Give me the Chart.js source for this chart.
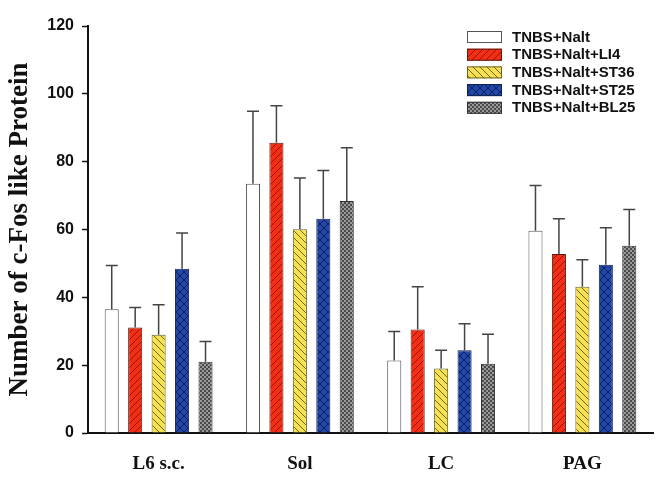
<!DOCTYPE html>
<html>
<head>
<meta charset="utf-8">
<script src="https://cdn.jsdelivr.net/npm/chart.js@4/dist/chart.umd.min.js"></script>
<style>
  html, body { margin: 0; padding: 0; background: #fff; }
  #wrap { width: 658px; height: 477px; }
</style>
</head>
<body>
<div id="wrap"><canvas id="chart" width="658" height="477"></canvas></div>
<script>
// categories and series
const categories = ['L6 s.c.', 'Sol', 'LC', 'PAG'];
const seriesLabels = ['TNBS+Nalt', 'TNBS+Nalt+LI4', 'TNBS+Nalt+ST36', 'TNBS+Nalt+ST25', 'TNBS+Nalt+BL25'];

// means
const naltMean = [36.5, 73.5, 21.4, 59.6];
const li4Mean  = [31.1, 85.6, 30.5, 52.8];
const st36Mean = [29.0, 60.1, 19.0, 43.1];
const st25Mean = [48.4, 63.2, 24.4, 49.6];
const bl25Mean = [21.0, 68.4, 20.4, 55.2];

// error bars (upper only)
const naltErr = [12.9, 21.4, 8.5, 13.4];
const li4Err  = [5.9, 10.9, 12.6, 10.4];
const st36Err = [8.8, 15.1, 5.4, 8.0];
const st25Err = [10.6, 14.2, 7.8, 10.9];
const bl25Err = [6.0, 15.7, 8.7, 10.7];

const yTicks = [0, 20, 40, 60, 80, 100, 120];

// pattern helpers
function makePattern(size, draw) {
    const c = document.createElement('canvas');
    c.width = size; c.height = size;
    const g = c.getContext('2d');
    draw(g, size);
    return document.getElementById('chart').getContext('2d').createPattern(c, 'repeat');
}

function diag(g, s, dir) {
    for (let k = -1; k <= 1; k++) {
        const o = k * s;
        g.beginPath();
        if (dir > 0) { g.moveTo(o, s); g.lineTo(o + s, 0); }
        else { g.moveTo(o, 0); g.lineTo(o + s, s); }
        g.stroke();
    }
}

const redFill = makePattern(7, (g, s) => {
    g.fillStyle = '#f52d14'; g.fillRect(0, 0, s, s);
    g.strokeStyle = '#8a1c0c'; g.lineWidth = 1; diag(g, s, 1);
});
const yellowFill = makePattern(7, (g, s) => {
    g.fillStyle = '#f7e24e'; g.fillRect(0, 0, s, s);
    g.strokeStyle = '#6e6420'; g.lineWidth = 1; diag(g, s, -1);
});
const blueFill = makePattern(8, (g, s) => {
    g.fillStyle = '#2148a8'; g.fillRect(0, 0, s, s);
    g.strokeStyle = '#0d1f5c'; g.lineWidth = 1; diag(g, s, 1); diag(g, s, -1);
});
const grayFill = makePattern(4, (g, s) => {
    g.fillStyle = '#4a4a4a'; g.fillRect(0, 0, s, s);
    g.fillStyle = '#9a9a9a'; g.fillRect(0, 0, 2, 2); g.fillRect(2, 2, 2, 2);
});

const means = [naltMean, li4Mean, st36Mean, st25Mean, bl25Mean];
const errs = [naltErr, li4Err, st36Err, st25Err, bl25Err];
const fills = ['#ffffff', redFill, yellowFill, blueFill, grayFill];
const borders = ['#555555', '#5a1a10', '#6a6030', '#102050', '#333333'];

// upward error bars
const errorBars = {
    id: 'errorBars',
    afterDatasetsDraw(chart) {
        const ctx = chart.ctx;
        const y = chart.scales.y;
        ctx.save();
        ctx.strokeStyle = '#444';
        ctx.lineWidth = 1.5;
        chart.data.datasets.forEach((ds, i) => {
            chart.getDatasetMeta(i).data.forEach((bar, j) => {
                const top = y.getPixelForValue(ds.data[j] + ds.errors[j]);
                ctx.beginPath();
                ctx.moveTo(bar.x, bar.y);
                ctx.lineTo(bar.x, top);
                ctx.moveTo(bar.x - 6, top);
                ctx.lineTo(bar.x + 6, top);
                ctx.stroke();
            });
        });
        ctx.restore();
    }
};

// legend box in the upper right
const boxLegend = {
    id: 'boxLegend',
    afterDraw(chart) {
        const ctx = chart.ctx;
        const x0 = chart.chartArea.right - 186;
        const y0 = 31;
        ctx.save();
        ctx.font = 'bold 15px "Liberation Sans", Arial, sans-serif';
        ctx.textBaseline = 'middle';
        chart.data.datasets.forEach((ds, i) => {
            const y = y0 + i * 17.7;
            ctx.fillStyle = ds.backgroundColor;
            ctx.fillRect(x0, y, 35, 12);
            ctx.strokeStyle = ds.borderColor;
            ctx.lineWidth = 1;
            ctx.strokeRect(x0 + 0.5, y + 0.5, 34, 11);
            ctx.fillStyle = '#111';
            ctx.fillText(ds.label, x0 + 45, y + 6.5);
        });
        ctx.restore();
    }
};

new Chart(document.getElementById('chart'), {
    type: 'bar',
    data: {
        labels: categories,
        datasets: seriesLabels.map((label, i) => ({
            label: label,
            data: means[i],
            errors: errs[i],
            backgroundColor: fills[i],
            borderColor: borders[i],
            borderWidth: 1,
            categoryPercentage: 0.83,
            barPercentage: 0.6
        }))
    },
    options: {
        responsive: false,
        animation: false,
        layout: { padding: { top: 26, right: 5, bottom: 0, left: 0 } },
        plugins: {
            legend: { display: false },
            tooltip: { enabled: false }
        },
        scales: {
            x: {
                afterFit(scale) { scale.height = 44; },
                grid: { display: false, drawTicks: false },
                border: { display: true, color: '#111', width: 2 },
                ticks: {
                    color: '#111',
                    padding: 20,
                    font: { family: '"Liberation Serif", "Times New Roman", serif', size: 19, weight: 'bold' }
                }
            },
            y: {
                min: 0,
                max: 120,
                afterBuildTicks(scale) { scale.ticks = yTicks.map(v => ({ value: v })); },
                afterFit(scale) { scale.width = 88; },
                grid: { drawOnChartArea: false, drawTicks: true, tickLength: 6, tickColor: '#111', tickWidth: 1.5 },
                border: { display: true, color: '#111', width: 2 },
                ticks: {
                    color: '#111',
                    padding: 8,
                    font: { family: '"Liberation Sans", Arial, sans-serif', size: 16, weight: 'bold' }
                },
                title: {
                    display: true,
                    text: 'Number of c-Fos like Protein',
                    color: '#111',
                    padding: { top: 4, bottom: 0 },
                    font: { family: '"Liberation Serif", "Times New Roman", serif', size: 27, weight: 'bold' }
                }
            }
        }
    },
    plugins: [errorBars, boxLegend]
});
</script>
</body>
</html>
